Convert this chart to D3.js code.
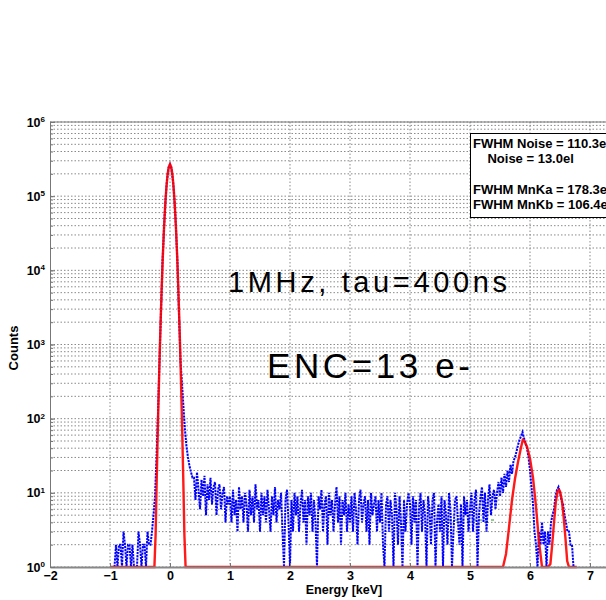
<!DOCTYPE html>
<meta charset="utf-8">
<style>
    body {
        margin: 0;
        background: #fff;
    }

    svg {
        display: block;
        font-family: "Liberation Sans", Arial, sans-serif;
    }

    .axis text {
        fill: #000;
        font-weight: bold;
        font-size: 12.5px;
    }

    .axis path,
    .axis line {
        stroke: #777;
    }

    .grid line {
        stroke: #8a8a8a;
        stroke-dasharray: 1.5, 2;
    }

    .legend text {
        font-weight: bold;
        font-size: 13px;
    }
</style>

<body>
    <script src="https://cdn.jsdelivr.net/npm/d3@7"></script>
    <script>
        // histogram bins (keV), counts, region by region
        var binStart = -0.925,
            binWidth = 0.025;

        var countsBelowZero = [1, 2, 1, 2, 2, 1, 3, 2, 1, 2, 2, 1, 2, 1, 1, 1, 3, 2, 1, 2, 2, 1, 3, 2, 2, 3, 5];
        var countsNoisePeak = [9, 30, 120, 600, 2800, 13000, 37000, 90000, 165000, 240000, 268000, 235000, 160000, 88000, 37000, 12000, 2500];
        var countsTail = [600, 300, 140, 70, 42, 30, 23, 19, 16];
        var countsLowEnergy = [16, 8, 19, 11, 6, 15, 9, 17, 5, 13, 8, 16, 7, 12, 14, 5, 11, 13, 6, 10, 12, 4, 9, 7];
        var countsFlat1 = [9, 4, 11, 5, 8, 3, 12, 6, 9, 4, 10, 7, 3, 11, 5, 9, 4, 13, 6, 8, 3, 10, 5, 9, 4, 11, 6, 3, 9, 5, 12, 4, 8, 6, 10, 3, 1, 8, 11, 4];
        var countsFlat2 = [1, 8, 3, 10, 5, 9, 3, 7, 11, 4, 8, 2, 9, 5, 10, 3, 8, 4, 1, 9, 6, 11, 3, 7, 9, 2, 10, 5, 8, 3, 7, 12, 4, 9, 2, 8, 5, 10, 3, 7];
        var countsFlat3 = [4, 9, 3, 10, 6, 2, 8, 11, 4, 7, 9, 3, 8, 2, 10, 5, 7, 9, 3, 8, 4, 10, 2, 1, 7, 9, 3, 8, 5, 1, 10, 6, 2, 9, 4, 1, 8, 3, 7, 10];
        var countsFlat4 = [7, 2, 9, 4, 8, 1, 6, 10, 3, 8, 5, 1, 9, 6, 2, 8, 10, 1, 4, 7, 3, 9, 1, 8, 5, 2, 10, 6, 1, 3, 8, 9, 4, 2, 7, 1, 9, 5, 8, 3];
        var countsFlat5 = [6, 10, 3, 8, 11, 1, 5, 9, 12, 4, 10, 3, 8, 13, 5, 9, 11, 6, 10, 14];
        var countsMnKa = [9, 16, 10, 18, 12, 20, 14, 24, 18, 27, 30, 36, 44, 52, 58, 66, 55, 47, 40, 30, 20, 12, 7, 3];
        var countsValley = [2, 1, 3, 2, 4, 2, 3, 1, 3, 2, 4, 5];
        var countsMnKb = [6, 9, 11, 12, 10, 8, 7, 5, 4, 3, 3, 2, 2, 1, 1];

        // fitted curve (red)
        var fitEnergy = [-1.0, -0.26, -0.24, -0.22, -0.2, -0.18, -0.16, -0.14, -0.12, -0.1, -0.08, -0.06, -0.04, -0.02, 0,
            0.02, 0.04, 0.06, 0.08, 0.1, 0.12, 0.14, 0.16, 0.18, 0.2, 0.22, 0.24, 0.26,
            5.5, 5.55, 5.6, 5.65, 5.7, 5.75, 5.8, 5.85, 5.88, 5.9, 5.95, 6.0, 6.05, 6.1, 6.15, 6.2, 6.3,
            6.34, 6.37, 6.4, 6.43, 6.46, 6.48, 6.5, 6.53, 6.56, 6.59, 6.62, 6.65, 6.78
        ];
        var fitCounts = [1, 1, 2.7, 17, 91, 413, 1614, 5350, 15150, 36540, 75000, 131000, 196000, 249000, 270000,
            249000, 196000, 131000, 75000, 36540, 15150, 5350, 1614, 413, 91, 17, 2.7, 1,
            1, 1, 1.5, 3.4, 8, 15.5, 26, 41, 52, 51, 42, 29, 16, 6.5, 2.2, 1, 1,
            1.1, 2, 4, 7.5, 10.5, 11, 10.5, 8, 4.8, 2.5, 1.2, 1, 1
        ];

        // faint green background line
        var bgEnergy = [4.55, 5.45];
        var bgCounts = [4.3, 4.3];

        var xTicks = [-2, -1, 0, 1, 2, 3, 4, 5, 6, 7];
        var xGrid = [-1, 0, 1, 2, 3, 4, 5, 6, 7];
        var yDecades = [1, 10, 100, 1000, 10000, 100000, 1000000];
        var legendLines = ["FWHM Noise = 110.3eV", "    Noise = 13.0el", "", "FWHM MnKa = 178.3eV", "FWHM MnKb = 106.4eV"];

        var margin = {
                top: 122,
                left: 50
            },
            width = 600,
            height = 445;

        var x = d3.scaleLinear().domain([-2, 8]).range([0, width]);
        var y = d3.scaleLog().domain([1, 1e6]).range([height, 0]);

        var svg = d3.select("body").append("svg")
            .attr("width", 606)
            .attr("height", 600);

        var g = svg.append("g")
            .attr("transform", "translate(" + margin.left + "," + margin.top + ")");

        // grid
        g.append("g").attr("class", "grid")
            .selectAll("line").data(y.ticks())
            .enter().append("line")
            .attr("x1", 0).attr("x2", width)
            .attr("y1", function(d) { return y(d); })
            .attr("y2", function(d) { return y(d); });

        g.append("g").attr("class", "grid")
            .selectAll("line").data(xGrid)
            .enter().append("line")
            .attr("y1", 0).attr("y2", height)
            .attr("x1", function(d) { return x(d); })
            .attr("x2", function(d) { return x(d); });

        // top border
        g.append("line")
            .attr("x1", 0).attr("x2", width)
            .attr("y1", 0).attr("y2", 0)
            .style("stroke", "#777");

        var blueCounts = [].concat(countsBelowZero, countsNoisePeak, countsTail, countsLowEnergy,
            countsFlat1, countsFlat2, countsFlat3, countsFlat4, countsFlat5, countsMnKa, countsValley, countsMnKb);
        var spectrum = blueCounts.map(function(c, i) {
            return {
                e: binStart + i * binWidth,
                c: c
            };
        });

        var line = d3.line()
            .x(function(d) { return x(d.e); })
            .y(function(d) { return y(Math.max(1, d.c)); });

        g.append("path")
            .datum(bgEnergy.map(function(e, i) { return { e: e, c: bgCounts[i] }; }))
            .attr("d", line)
            .style("fill", "none")
            .style("stroke", "#2a9a2a")
            .style("stroke-width", 1)
            .style("stroke-dasharray", "3,3");

        g.append("path")
            .datum(spectrum)
            .attr("d", line)
            .style("fill", "none")
            .style("stroke", "#0000ff")
            .style("stroke-width", 2)
            .style("stroke-dasharray", "2.2,1");

        g.append("path")
            .datum(fitEnergy.map(function(e, i) { return { e: e, c: fitCounts[i] }; }))
            .attr("d", line)
            .style("fill", "none")
            .style("stroke", "#ff0000")
            .style("stroke-width", 2.4)
            .style("stroke-opacity", 0.9);

        // axes
        var xAxis = d3.axisBottom(x).tickValues(xTicks).tickSize(-4).tickSizeOuter(0).tickPadding(4);
        var gx = g.append("g")
            .attr("class", "axis")
            .attr("transform", "translate(0," + height + ")")
            .call(xAxis);
        gx.select(".domain").style("stroke-width", 2).style("stroke", "#888");

        g.append("g")
            .attr("class", "axis")
            .call(d3.axisLeft(y).tickValues(y.ticks()).tickSize(-3).tickSizeOuter(0).tickFormat(""));

        var gy = g.append("g")
            .attr("class", "axis")
            .call(d3.axisLeft(y).tickValues(yDecades).tickSize(-5).tickSizeOuter(0).tickPadding(5).tickFormat(""));

        gy.selectAll(".tick text").each(function(d) {
            var t = d3.select(this);
            t.append("tspan").text("10");
            t.append("tspan")
                .attr("dy", "-0.55em")
                .style("font-size", "8px")
                .text(Math.round(Math.log10(d)));
        });

        g.append("text")
            .attr("transform", "translate(" + (18 - margin.left) + "," + (348 - margin.top) + ") rotate(-90)")
            .attr("text-anchor", "middle")
            .style("font-weight", "bold")
            .style("font-size", "13px")
            .text("Counts");

        g.append("text")
            .attr("x", 344 - margin.left)
            .attr("y", 594 - margin.top)
            .attr("text-anchor", "middle")
            .style("font-weight", "bold")
            .style("font-size", "12.5px")
            .text("Energy [keV]");

        // annotations
        svg.append("text")
            .attr("x", 228)
            .attr("y", 292)
            .attr("textLength", 279)
            .attr("lengthAdjust", "spacing")
            .style("font-size", "29px")
            .text("1MHz, tau=400ns");

        svg.append("text")
            .attr("x", 267)
            .attr("y", 378)
            .attr("textLength", 203)
            .attr("lengthAdjust", "spacing")
            .style("font-size", "35px")
            .text("ENC=13 e-");

        // legend box
        var legend = svg.append("g").attr("class", "legend");
        legend.append("rect")
            .attr("x", 470.5).attr("y", 133.5)
            .attr("width", 200).attr("height", 84)
            .style("fill", "#fff")
            .style("stroke", "#000");

        legend.selectAll("text")
            .data(legendLines)
            .enter().append("text")
            .attr("x", 473)
            .attr("y", function(d, i) { return 148 + i * 15.3; })
            .attr("xml:space", "preserve")
            .style("white-space", "pre")
            .text(function(d) { return d; });
    </script>
</body>
